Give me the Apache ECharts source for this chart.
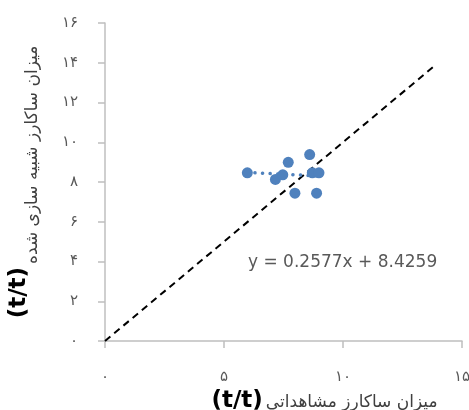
<!DOCTYPE html>
<html>
<head>
<meta charset="utf-8">
<script src="https://cdn.jsdelivr.net/npm/echarts@6/dist/echarts.min.js"></script>
<style>
    html, body { margin: 0; padding: 0; background: #fff; }
    #main { width: 469px; height: 410px; }
</style>
</head>
<body>
<div id="main"></div>
<script>
    // observed vs simulated sucrose (t/t)
    var observed = [5.98, 7.16, 7.47, 7.70, 8.60, 8.71, 8.99, 7.98, 8.89];
    var simulated = [8.46, 8.13, 8.36, 8.99, 9.38, 8.46, 8.46, 7.44, 7.44];

    // dotted trend segment as drawn (from first to last x)
    var trendX = [5.98, 8.99];
    var trendY = [8.48, 8.30];

    // 1:1 reference line
    var oneToOneX = [0, 13.8];
    var oneToOneY = [0, 13.8];

    var xTicks = [0, 5, 10, 15];
    var xTickLabels = ['۰', '۵', '۱۰', '۱۵'];
    var yTicks = [0, 2, 4, 6, 8, 10, 12, 14, 16];
    var yTickLabels = ['۰', '۲', '۴', '۶', '۸', '۱۰', '۱۲', '۱۴', '۱۶'];

    var xTitle = 'میزان ساکارز مشاهداتی';
    var yTitle = 'میزان ساکارز شبیه سازی شده';
    var unit = '(t/t)';
    var equation = 'y = 0.2577x + 8.4259';

    function pairs(xs, ys) {
        var out = [];
        for (var i = 0; i < xs.length; i++) {
            out.push([xs[i], ys[i]]);
        }
        return out;
    }

    function tickLabel(ticks, labels) {
        return function (v) {
            var i = ticks.indexOf(v);
            return i >= 0 ? labels[i] : '';
        };
    }

    var xNameRich = {
        b: { fontSize: 23, fontWeight: 'bold', color: '#000', fontFamily: 'DejaVu Sans', verticalAlign: 'bottom' },
        a: { fontSize: 17, color: '#404040', fontFamily: 'DejaVu Sans', verticalAlign: 'bottom', padding: [0, 0, 2, 3] }
    };
    // on the y title the unit sits a bit "above" the persian words
    var yNameRich = {
        b: { fontSize: 23, fontWeight: 'bold', color: '#000', fontFamily: 'DejaVu Sans', verticalAlign: 'bottom', padding: [0, 0, 12, 0] },
        a: { fontSize: 17, color: '#404040', fontFamily: 'DejaVu Sans', verticalAlign: 'bottom', padding: [0, 0, 2, 3] }
    };

    var myChart = echarts.init(document.getElementById('main'), null, { renderer: 'canvas' });

    var option = {
        animation: false,
        backgroundColor: '#fff',
        title: {
            text: equation,
            left: 248,
            top: 254,
            padding: 0,
            textStyle: { fontSize: 17, fontWeight: 'normal', color: '#595959', fontFamily: 'DejaVu Sans' }
        },
        grid: { left: 105, right: 7, top: 23, bottom: 69, containLabel: false, outerBoundsMode: 'none' },
        xAxis: {
            type: 'value',
            min: 0,
            max: 15,
            interval: 5,
            name: '{b|' + unit + '}{a|' + xTitle + '}',
            nameLocation: 'middle',
            nameGap: 30,
            nameTextStyle: { rich: xNameRich, padding: [0, 0, 0, 82] },
            axisLine: { show: true, lineStyle: { color: '#bfbfbf', width: 1.5 } },
            axisTick: { show: true, length: 7, lineStyle: { color: '#bfbfbf', width: 1.5 } },
            splitLine: { show: false },
            axisLabel: {
                margin: 29,
                fontSize: 15,
                color: '#595959',
                fontFamily: 'DejaVu Sans',
                formatter: tickLabel(xTicks, xTickLabels)
            }
        },
        yAxis: {
            type: 'value',
            min: 0,
            max: 16,
            interval: 2,
            name: '{b|' + unit + '}{a|' + yTitle + '}',
            nameLocation: 'middle',
            nameRotate: 90,
            nameGap: 62,
            nameTextStyle: { rich: yNameRich },
            axisLine: { show: true, lineStyle: { color: '#bfbfbf', width: 1.5 } },
            axisTick: { show: true, length: 7, lineStyle: { color: '#bfbfbf', width: 1.5 } },
            splitLine: { show: false },
            axisLabel: {
                margin: 27,
                fontSize: 15,
                color: '#595959',
                fontFamily: 'DejaVu Sans',
                formatter: tickLabel(yTicks, yTickLabels)
            }
        },
        series: [
            {
                type: 'line',
                data: pairs(oneToOneX, oneToOneY),
                symbol: 'none',
                silent: true,
                z: 2,
                lineStyle: { color: '#000', width: 2, type: [7, 5] }
            },
            {
                type: 'line',
                data: pairs(trendX, trendY),
                symbol: 'none',
                silent: true,
                z: 3,
                lineStyle: { color: '#4f81bd', width: 3.5, type: [0.1, 7.5], cap: 'round' }
            },
            {
                type: 'scatter',
                data: pairs(observed, simulated),
                symbol: 'circle',
                symbolSize: 11,
                z: 4,
                itemStyle: { color: '#4f81bd', opacity: 1 }
            }
        ]
    };

    myChart.setOption(option);
</script>
</body>
</html>
